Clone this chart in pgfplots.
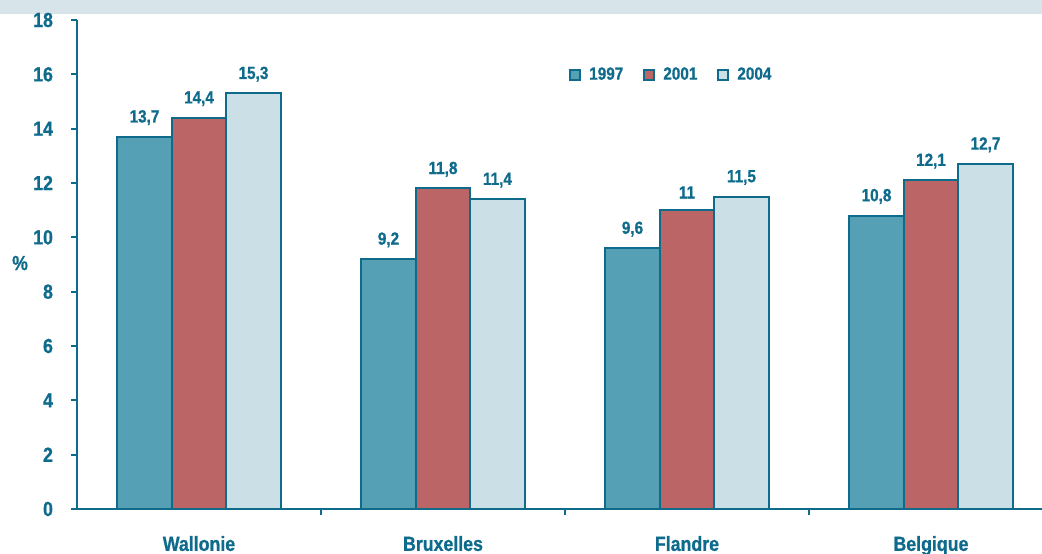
\documentclass[border=0pt]{standalone}
\usepackage{pgfplots}
\pgfplotsset{compat=1.18}
\usepackage{fontspec}
\setmainfont{Liberation Sans}[FakeStretch=0.87, BoldFeatures={FakeBold=0.8}]
\definecolor{ax}{HTML}{0E6B8C}
\definecolor{cA}{HTML}{55A0B4}
\definecolor{cB}{HTML}{BC6567}
\definecolor{cC}{HTML}{CBDFE7}
\definecolor{band}{HTML}{D7E5EB}
\begin{document}
\begin{tikzpicture}[x=1pt,y=1pt]
\path[use as bounding box] (0,0) rectangle (521,276.5);
\fill[band] (0,269.5) rectangle (521,276.5);
\begin{axis}[
  at={(38.5pt,22pt)}, anchor=south west,
  scale only axis, width=482.5pt, height=244.5pt,
  xmin=-0.5, xmax=3.455, ymin=0, ymax=18,
  axis lines=left,
  axis line style={-, draw=ax, line width=1pt},
  /pgf/number format/assume math mode=true,
  /pgf/number format/use comma,
  ytick={0,2,...,18},
  xtick={0,1,2,3},
  xticklabels={Wallonie,Bruxelles,Flandre,Belgique},
  xtick style={draw=none},
  extra x ticks={0.5,1.5,2.5},
  extra x tick labels={},
  extra x tick style={xtick style={draw=ax, line width=1pt}},
  ytick style={draw=ax, line width=1pt},
  tick align=outside, major tick length=3pt,
  ticklabel style={font=\fontsize{10.2}{11}\selectfont\bfseries, text=ax},
  yticklabel style={xshift=-5.5pt},
  xticklabel style={yshift=-7pt},
  ylabel={\%},
  ylabel style={rotate=-90, at={(axis description cs:-0.059,0.503)}, anchor=center, font=\fontsize{10.2}{11}\selectfont\bfseries, text=ax},
  ybar=0pt, bar width=0.2233,
  every axis plot/.append style={draw=ax, line width=1pt},
  nodes near coords,
  every node near coord/.append style={font=\fontsize{8.8}{10}\selectfont\bfseries, text=ax, yshift=2pt},
  legend columns=3,
  legend style={at={(0.619,0.8875)}, anchor=center, draw=none, fill=none,
    font=\fontsize{8.8}{10}\selectfont\bfseries, text=ax,
    nodes={inner xsep=4pt},
    /tikz/every even column/.append style={column sep=6pt}},
  legend image code/.code={\draw[#1,line width=1pt] (0pt,-2.5pt) rectangle (5pt,2.5pt);},
]
\addplot[fill=cA] coordinates {(0,13.7) (1,9.2) (2,9.6) (3,10.8)};
\addplot[fill=cB] coordinates {(0,14.4) (1,11.8) (2,11) (3,12.1)};
\addplot[fill=cC] coordinates {(0,15.3) (1,11.4) (2,11.5) (3,12.7)};
\legend{1997,2001,2004}
\end{axis}
\end{tikzpicture}
\end{document}
